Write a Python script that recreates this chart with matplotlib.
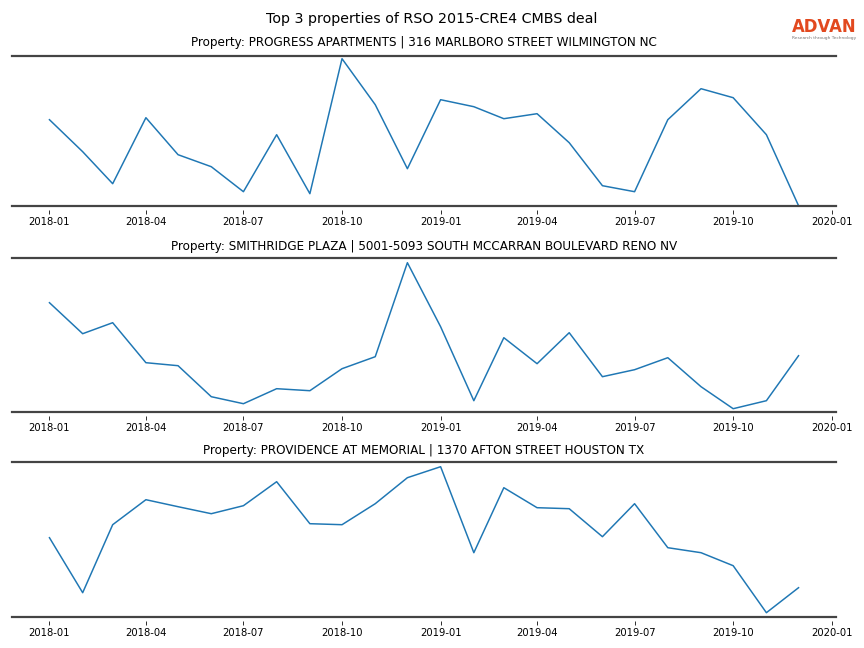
import pandas as pd
import matplotlib
matplotlib.use("Agg")
import matplotlib.pyplot as plt
import matplotlib.dates as mdates

# Monthly series, Jan 2018 - Dec 2019 (relative index, y axis is unlabelled)
months = pd.date_range("2018-01-01", "2019-12-01", freq="MS")

titles = [
    "Property: PROGRESS APARTMENTS | 316 MARLBORO STREET WILMINGTON NC",
    "Property: SMITHRIDGE PLAZA | 5001-5093 SOUTH MCCARRAN BOULEVARD RENO NV",
    "Property: PROVIDENCE AT MEMORIAL | 1370 AFTON STREET HOUSTON TX",
]

progress = [86, 54, 22, 88, 51, 39, 14, 71, 12, 147, 101, 37,
            106, 99, 87, 92, 63, 20, 14, 86, 117, 108, 71, 0]
smithridge = [109, 78, 89, 49, 46, 15, 8, 23, 21, 43, 55, 149,
              85, 11, 74, 48, 79, 35, 42, 54, 25, 3, 11, 56]
providence = [79, 24, 92, 117, 110, 103, 111, 135, 93, 92, 113, 139,
              150, 64, 129, 109, 108, 80, 113, 69, 64, 51, 4, 29]

series = [progress, smithridge, providence]
# value range framed by the two horizontal rules of each panel
frames = [(0, 150), (0, 154), (0, 155)]

W, H = 864, 648
fig = plt.figure(figsize=(12, 9), dpi=72)

# panel geometry in pixels: top rule, bottom rule
panels_px = [(55.7, 205.7), (257.7, 411.7), (461.7, 616.7)]
title_pads = [10, 8, 8]
gap = 4.5  # space between bottom rule and tick marks
left, right = 12, 836

for (top, rule), vals, (lo, hi), title, tpad in zip(panels_px, series, frames, titles, title_pads):
    bottom = rule + gap
    ax = fig.add_axes([left / W, 1 - bottom / H, (right - left) / W, (bottom - top) / H])
    ax.plot(months, vals, color="#1f77b4", linewidth=1.5)

    f = gap / (bottom - top)
    y0 = (lo - f * hi) / (1 - f)
    ax.set_ylim(y0, hi)
    ax.axhline(lo, color="#444444", linewidth=2.2, clip_on=False)
    ax.axhline(hi, color="#444444", linewidth=2.2, clip_on=False)

    for s in ax.spines.values():
        s.set_visible(False)
    ax.set_yticks([])
    ax.xaxis.set_major_locator(mdates.MonthLocator(bymonth=[1, 4, 7, 10]))
    ax.xaxis.set_major_formatter(mdates.DateFormatter("%Y-%m"))
    ax.tick_params(axis="x", labelsize=10, length=3.5, width=0.8)
    ax.set_title(title, fontsize=12, pad=tpad)

fig.suptitle("Top 3 properties of RSO 2015-CRE4 CMBS deal", fontsize=14.3, y=1 - 19.5 / H, va="center")

# logo
fig.text(824 / W, 1 - 27 / H, "ADVAN", color="#e2491f", fontsize=16.5,
         weight="bold", ha="center", va="center")
fig.text(824 / W, 1 - 38.5 / H, "Research through Technology", color="#777777",
         fontsize=4.4, ha="center", va="center")

fig.savefig("out.png", dpi=72)
